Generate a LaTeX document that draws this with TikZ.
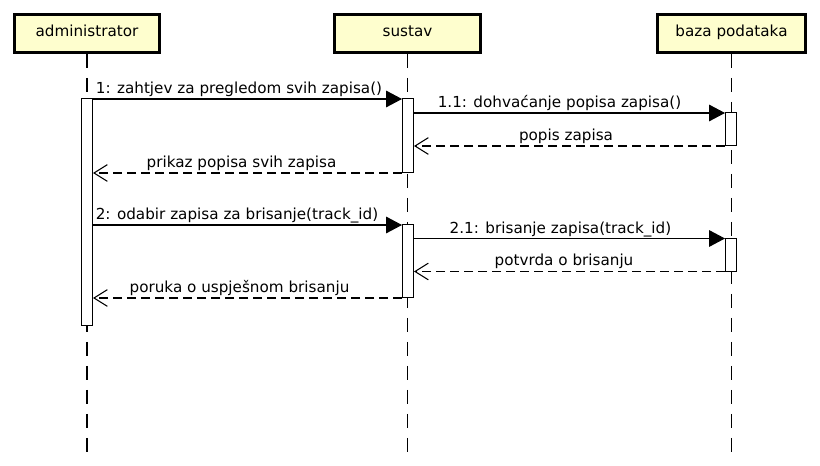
\documentclass[tikz,border=0pt]{standalone}
\usepackage{fontspec}
\setmainfont{DejaVu Sans}
\usetikzlibrary{arrows.meta}
\definecolor{actorfill}{HTML}{FEFECE}

\begin{document}
\begin{tikzpicture}[x=0.75pt,y=-0.75pt,
    actor/.style={draw,fill=actorfill,line width=2.2pt,minimum height=28.5pt,
      text height=8.5pt,text depth=4.5pt,font=\fontsize{11.4}{13}\selectfont},
    lifeline/.style={line width=0.8pt,dash pattern=on 10.5pt off 7.5pt},
    act/.style={draw,fill=white,line width=0.75pt,inner sep=0pt,minimum width=8.25pt},
    call/.style={line width=0.8pt,-{Triangle[length=12pt,width=12.5pt]}},
    reply/.style={line width=0.8pt,dash pattern=on 6.75pt off 3.75pt,
      -{Straight Barb[length=10pt,width=12.5pt]}},
    msg/.style={anchor=base,inner sep=0pt,font=\fontsize{11.4}{13}\selectfont}]
        \useasboundingbox (0,0) rectangle (820,466);

        % Participants
        \node[actor,minimum width=108.75pt] (admin) at (87,33.5) {administrator};
        \node[actor,minimum width=109.5pt] (sustav) at (407.5,33.5) {sustav};
        \node[actor,minimum width=111pt] (baza) at (731.5,33.5) {baza podataka};

        % Lifelines
        \coordinate (bottom) at (0,453);
        \draw[lifeline] (admin.south) -- (admin.south |- bottom);
        \draw[lifeline] (sustav.south) -- (sustav.south |- bottom);
        \draw[lifeline] (baza.south) -- (baza.south |- bottom);

        % Activations
        \node[act,minimum height=169.5pt] (actA) at (87,212) {};
        \node[act,minimum height=55.5pt] (actS1) at (408,136) {};
        \node[act,minimum height=54.75pt] (actS2) at (408,261.5) {};
        \node[act,minimum height=24.75pt] (actB1) at (731,129.5) {};
        \node[act,minimum height=24.75pt] (actB2) at (731,255) {};

        % Message rows
        \coordinate (m1) at (0,99);
        \coordinate (m11) at (0,113);
        \coordinate (r11) at (0,146);
        \coordinate (r1) at (0,173);
        \coordinate (m2) at (0,225);
        \coordinate (m21) at (0,238.5);
        \coordinate (r21) at (0,271.5);
        \coordinate (r2) at (0,298);

        % Messages
        \draw[call] (actA.east |- m1) -- (actS1.west |- m1);
        \draw[call] (actS1.east |- m11) -- (actB1.west |- m11);
        \draw[reply] (actB1.west |- r11) -- (actS1.east |- r11);
        \draw[reply] (actS1.west |- r1) -- (actA.east |- r1);
        \draw[call] (actA.east |- m2) -- (actS2.west |- m2);
        \draw[call] (actS2.east |- m21) -- (actB2.west |- m21);
        \draw[reply] (actB2.west |- r21) -- (actS2.east |- r21);
        \draw[reply] (actS2.west |- r2) -- (actA.east |- r2);

        % Labels
        \node[msg] (l1) at (239,94) {1: zahtjev za pregledom svih zapisa()};
        \node[msg] (l11) at (559.5,108) {1.1: dohvaćanje popisa zapisa()};
        \node[msg] (lr11) at (566,141) {popis zapisa};
        \node[msg] (lr1) at (241.5,168) {prikaz popisa svih zapisa};
        \node[msg] (l2) at (237,220) {2: odabir zapisa za brisanje(track\_id)};
        \node[msg] (l21) at (560.5,233.5) {2.1: brisanje zapisa(track\_id)};
        \node[msg] (lr21) at (564,266) {potvrda o brisanju};
        \node[msg] (lr2) at (239.5,292.5) {poruka o uspješnom brisanju};
    \end{tikzpicture}
\end{document}
